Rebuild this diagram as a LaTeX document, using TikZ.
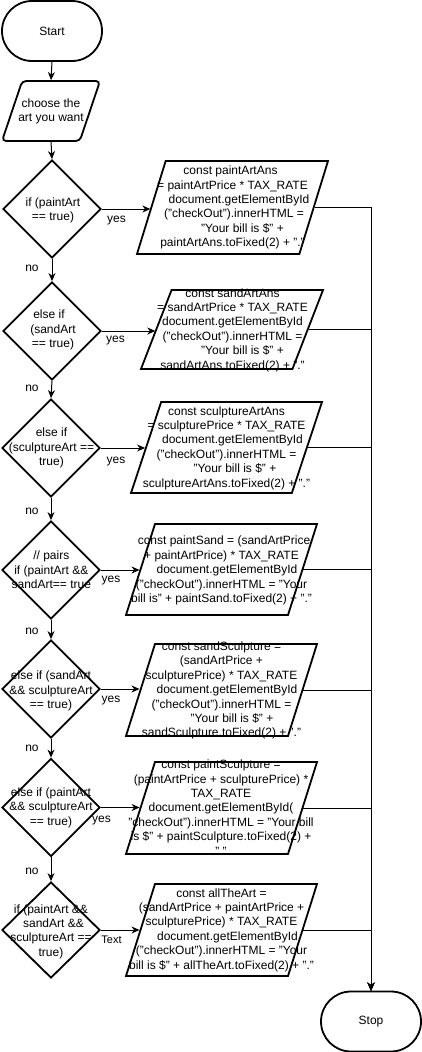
\documentclass[tikz,border=0pt]{standalone}
\usepackage{fontspec}
\setmainfont{Liberation Sans}
\usetikzlibrary{shapes.geometric,arrows.meta}

% leading / trailing blank space inside a centred line
\newcommand\padsp[1]{\hspace*{#1pt}}

\tikzset{
  term/.style={draw, line width=1.8pt, rectangle, rounded corners=30pt,
    minimum width=100pt, minimum height=60pt, inner sep=0pt,
    font=\fontsize{12pt}{14.4pt}\selectfont},
  decision/.style={draw, line width=1.8pt, diamond, inner sep=1pt,
    minimum width=98pt, minimum height=98pt},
  iobox/.style={draw, line width=1.8pt, trapezium, trapezium stretches=true,
    inner sep=1pt, minimum width=191pt, minimum height=92pt,
    trapezium left angle=77.7, trapezium right angle=102.3},
  txt/.style={align=center, inner sep=0pt, font=\fontsize{12pt}{14.4pt}\selectfont},
  lbl/.style={inner sep=0pt, font=\fontsize{12pt}{14.4pt}\selectfont},
  conn/.style={line width=1pt, -{Stealth[length=8pt,width=7pt,inset=2.5pt]}},
  wire/.style={line width=1pt}
}

\begin{document}
\begin{tikzpicture}[x=1pt,y=-1pt,line join=miter]
\useasboundingbox (0,0) rectangle (422,1052);
\fill[white] (0,0) rectangle (422,1052);

% terminals
\node[term] (start) at (52,31) {Start};
\node[term] (stop) at (371,1021.5) {Stop};

% input
\node[iobox, minimum width=98pt, minimum height=60pt,
  trapezium left angle=70.7, trapezium right angle=109.3,
  rounded corners=4pt] (choose) at (51,111) {};
\node[txt] (chooseT) at (51,111.5) {choose the\\art you want};

% decisions
\node[decision] (d1) at (52,209) {};
\node[decision] (d2) at (52,331) {};
\node[decision] (d3) at (51,448) {};
\node[decision] (d4) at (51,570) {};
\node[decision] (d5) at (51,689) {};
\node[decision] (d6) at (51,807.5) {};
\node[decision, minimum height=96pt] (d7) at (51,930) {};

\node[txt] (d1t) at (53,210.5) {if (paintArt\\== true)};
\node[txt] (d2t) at (53,330) {else if\padsp{8}\\(sandArt\\== true)};
\node[txt] (d3t) at (51.5,448) {else if\\(sculptureArt ==\\true)};
\node[txt] (d4t) at (51.3,570) {// pairs\\if (paintArt \&\&\\sandArt== true};
\node[txt] (d5t) at (51,691) {else if (sandArt\\\&\& sculptureArt\\== true)};
\node[txt] (d6t) at (51,807.5) {else if (paintArt\\\&\& sculptureArt\\== true)};
\node[txt] (d7t) at (51,931.5) {if (paintArt \&\&\\\padsp{5}sandArt \&\&\\sculptureArt ==\\true)};

% outputs
\node[iobox, minimum height=93pt, trapezium left angle=77.9,
  trapezium right angle=102.1] (p1) at (232.5,207.5) {};
\node[iobox, minimum width=182pt, minimum height=79pt,
  trapezium left angle=75.8, trapezium right angle=104.2] (p2) at (232,329.5) {};
\node[iobox, minimum height=91pt, trapezium left angle=77,
  trapezium right angle=103] (p3) at (226.5,447.5) {};
\node[iobox, minimum height=91pt] (p4) at (221.5,569.5) {};
\node[iobox] (p5) at (221.5,690) {};
\node[iobox] (p6) at (221.5,808) {};
\node[iobox] (p7) at (221.5,930) {};

\node[txt] (p1t) at (232.5,207.5) {const paintArtAns\padsp{4}\\
  = paintArtPrice * TAX\_RATE\\
  \padsp{13}document.getElementById\\
  \padsp{3}("checkOut").innerHTML =\\
  \padsp{20}"Your bill is \$" +\\
  paintArtAns.toFixed(2) + "."};
\node[txt] (p2t) at (232.5,330) {const sandArtAns\\
  = sandArtPrice * TAX\_RATE\padsp{5}\\
  document.getElementById\\
  ("checkOut").innerHTML =\\
  \padsp{20}"Your bill is \$" +\\
  sandArtAns.toFixed(2) + "."};
\node[txt] (p3t) at (226.5,448) {const sculptureArtAns\\
  = sculpturePrice * TAX\_RATE\\
  \padsp{12}document.getElementById\\
  ("checkOut").innerHTML =\\
  \padsp{17}"Your bill is \$" +\\
  sculptureArtAns.toFixed(2) + "."};
\node[txt] (p4t) at (221.5,570.5) {\padsp{5}const paintSand = (sandArtPrice\\
  + paintArtPrice) * TAX\_RATE\\
  \padsp{11}document.getElementById\\
  ("checkOut").innerHTML = "Your\\
  bill is" + paintSand.toFixed(2) + "."};
\node[txt] (p5t) at (221.5,690.5) {const sandSculpture =\\
  (sandArtPrice +\padsp{6}\\
  sculpturePrice) * TAX\_RATE\\
  \padsp{11}document.getElementById\\
  ("checkOut").innerHTML =\\
  \padsp{21}"Your bill is \$" +\\
  sandSculpture.toFixed(2) + "."};
\node[txt] (p6t) at (221,807.5) {const paintSculpture =\\
  (paintArtPrice + sculpturePrice) *\\
  TAX\_RATE\padsp{7}\\
  document.getElementById(\\
  "checkOut").innerHTML = "Your bill\\
  is \$" + paintSculpture.toFixed(2) +\\
  "."};
\node[txt] (p7t) at (221.5,930) {const allTheArt =\\
  (sandArtPrice + paintArtPrice +\padsp{4}\\
  sculpturePrice) * TAX\_RATE\\
  \padsp{12}document.getElementById\\
  ("checkOut").innerHTML = "Your\\
  bill is \$" + allTheArt.toFixed(2) + "."};

% main flow
\draw[conn] (start.south) -- (choose.north);
\draw[conn] (choose.south) -- (d1.north);
\draw[conn] (d1.south) -- (d2.north);
\draw[conn] (d2.south) -- (d3.north);
\draw[conn] (d3.south) -- (d4.north);
\draw[conn] (d4.south) -- (d5.north);
\draw[conn] (d5.south) -- (d6.north);
\draw[conn] (d6.south) -- (d7.north);

% branches to outputs
\draw[conn] (d1.east) -- (d1.east -| p1.west);
\draw[conn] (d2.east) -- (d2.east -| p2.west);
\draw[conn] (d3.east) -- (d3.east -| p3.west);
\draw[conn] (d4.east) -- (d4.east -| p4.west);
\draw[conn] (d5.east) -- (d5.east -| p5.west);
\draw[conn] (d6.east) -- (d6.east -| p6.west);
\draw[conn] (d7.east) -- (d7.east -| p7.west);

% outputs to stop
\foreach \p in {p1,p2,p3,p4,p5,p6,p7}
  \draw[conn] (\p.east) -| (stop.north);

% labels
\node[lbl] (y1) at (116.5,221) {yes};
\node[lbl] (y2) at (115.5,341) {yes};
\node[lbl] (y3) at (116,462) {yes};
\node[lbl] (y4) at (111,581) {yes};
\node[lbl] (y5) at (111,701) {yes};
\node[lbl] (y6) at (101.5,821) {yes};
\node[lbl, font=\fontsize{11pt}{13pt}\selectfont] (y7) at (111.5,939.5) {Text};
\node[lbl] (n1) at (32,268.5) {no};
\node[lbl] (n2) at (32,388) {no};
\node[lbl] (n3) at (32,511) {no};
\node[lbl] (n4) at (32,631) {no};
\node[lbl] (n5) at (32,748) {no};
\node[lbl] (n6) at (32,871) {no};
\end{tikzpicture}
\end{document}
